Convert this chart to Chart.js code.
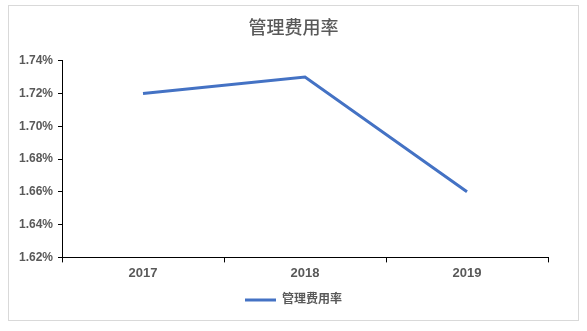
<!DOCTYPE html>
<html>
<head>
<meta charset="utf-8">
<script src="https://cdn.jsdelivr.net/npm/chart.js@4/dist/chart.umd.min.js"></script>
<style>
html,body{margin:0;padding:0;background:#fff;}
#wrap{position:absolute;left:8px;top:5px;width:571px;height:316px;box-sizing:border-box;border:1px solid #d9d9d9;background:#fff;}
</style>
</head>
<body>
<div id="wrap"><canvas id="c"></canvas></div>
<script>
const categories = ['2017', '2018', '2019'];
const seriesName = '管理费用率';
const seriesValues = [1.72, 1.73, 1.66];
const yTicks = [1.62, 1.64, 1.66, 1.68, 1.70, 1.72, 1.74];

const FONT = '"Liberation Sans", Arial, "Noto Sans CJK SC", sans-serif';
const TXT = '#595959';

new Chart(document.getElementById('c'), {
  type: 'line',
  data: {
    labels: categories,
    datasets: [{
      label: seriesName,
      data: seriesValues,
      borderColor: '#4472C4',
      backgroundColor: '#4472C4',
      borderWidth: 3,
      pointRadius: 0,
      pointHoverRadius: 0,
      tension: 0,
      fill: false,
      pointStyle: 'line'
    }]
  },
  options: {
    responsive: true,
    maintainAspectRatio: false,
    animation: false,
    events: [],
    layout: { padding: { left: 0, right: 0, top: 0, bottom: 4 } },
    plugins: {
      title: {
        display: true,
        text: seriesName,
        color: TXT,
        font: { family: FONT, size: 18, weight: '500' },
        padding: { top: 12, bottom: 21 }
      },
      legend: {
        display: true,
        position: 'bottom',
        labels: {
          color: TXT,
          font: { family: FONT, size: 12, weight: 'bold' },
          usePointStyle: true,
          pointStyle: 'line',
          pointStyleWidth: 31,
          boxWidth: 31,
          padding: 10
        }
      },
      tooltip: { enabled: false }
    },
    scales: {
      x: {
        type: 'category',
        offset: true,
        grid: { offset: true, drawOnChartArea: false, drawTicks: true, tickLength: 5, color: '#000', lineWidth: 1 },
        border: { display: true, color: '#000', width: 1 },
        ticks: { color: TXT, font: { family: FONT, size: 13, weight: 'bold' }, padding: 3, maxRotation: 0 }
      },
      y: {
        min: 1.62,
        max: 1.74,
        afterBuildTicks: (scale) => { scale.ticks = yTicks.map(v => ({ value: v })); },
        afterFit: (scale) => { scale.width = 53; },
        grid: { drawOnChartArea: false, drawTicks: true, tickLength: 4, color: '#000', lineWidth: 1 },
        border: { display: true, color: '#000', width: 1 },
        ticks: {
          color: TXT,
          font: { family: FONT, size: 12, weight: 'bold' },
          padding: 5,
          callback: (v) => Number(v).toFixed(2) + '%'
        }
      },
      yRightGap: {
        position: 'right',
        display: true,
        min: 0,
        max: 1,
        afterFit: (scale) => { scale.width = 30; },
        grid: { display: false, drawTicks: false },
        border: { display: false },
        ticks: { display: false }
      }
    }
  }
});
</script>
</body>
</html>
